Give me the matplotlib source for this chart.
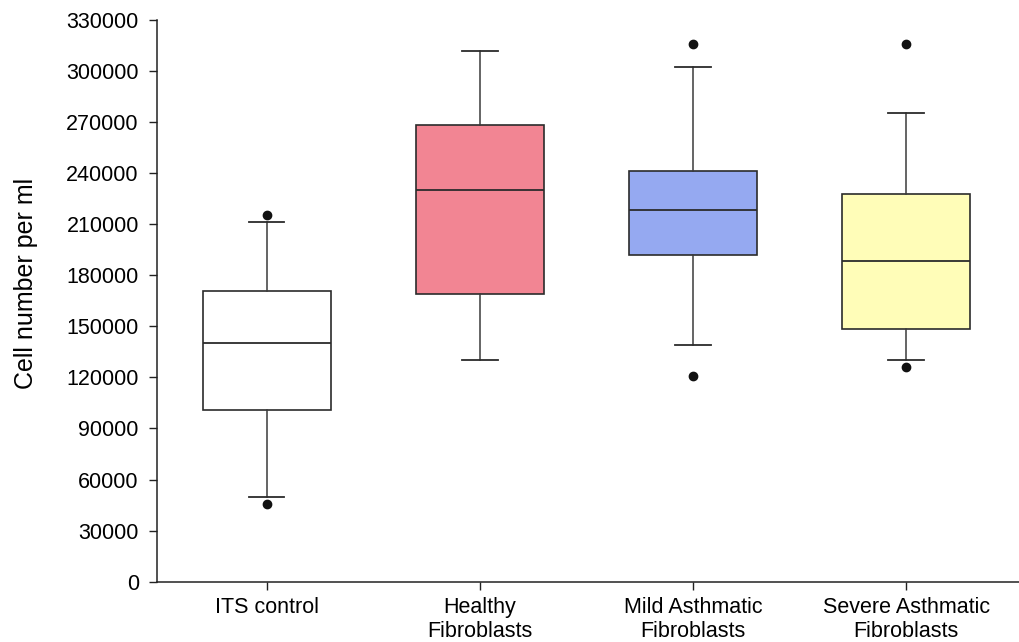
import matplotlib
matplotlib.use("Agg")
import matplotlib.pyplot as plt

plt.rcParams['font.family'] = ['Liberation Sans', 'DejaVu Sans']

groups = ["ITS control", "Healthy\nFibroblasts", "Mild Asthmatic\nFibroblasts",
          "Severe Asthmatic\nFibroblasts"]
fill_colors = ["#FFFFFF", "#F28593", "#95A9F1", "#FFFDB8"]

# five-number summaries (cells per ml)
whisker_low = [49500, 130500, 139000, 130000]
q1 = [101000, 169000, 192000, 148500]
median = [140000, 230000, 218500, 188500]
q3 = [171000, 268000, 241500, 227500]
whisker_high = [211000, 311500, 302500, 275500]
outliers = [[45500, 215500], [], [121000, 316000], [126000, 316000]]

stats = []
for i in range(len(groups)):
    stats.append({
        "whislo": whisker_low[i], "q1": q1[i], "med": median[i],
        "q3": q3[i], "whishi": whisker_high[i], "fliers": outliers[i],
    })

fig = plt.figure(figsize=(10.19, 6.42), dpi=100)
ax = fig.add_axes([0.154, 0.094, 0.846, 0.875])

bp = ax.bxp(stats, positions=[1, 2, 3, 4], widths=0.6, capwidths=0.165,
            patch_artist=True,
            boxprops=dict(edgecolor="#2b2b2b", linewidth=1.2),
            medianprops=dict(color="#2b2b2b", linewidth=1.3),
            whiskerprops=dict(color="#3a3a3a", linewidth=1.1),
            capprops=dict(color="#2b2b2b", linewidth=1.3),
            flierprops=dict(marker="o", markerfacecolor="#111111",
                            markeredgecolor="#111111", markersize=6))
for patch, c in zip(bp["boxes"], fill_colors):
    patch.set_facecolor(c)

ax.set_xlim(0.484, 4.53)
ax.set_ylim(0, 330000)
ax.set_yticks(range(0, 330001, 30000))
ax.set_xticks([1, 2, 3, 4])
ax.set_xticklabels(groups, linespacing=1.18)
ax.tick_params(axis="both", direction="out", length=6, width=1.0,
               labelsize=15.5, color="#222222")
ax.tick_params(axis="y", pad=7)
ax.tick_params(axis="x", pad=5)
ax.set_ylabel("Cell number per ml", fontsize=18)
ax.yaxis.set_label_coords(-0.138, 0.53)

for side in ["top", "right"]:
    ax.spines[side].set_visible(False)
for side in ["left", "bottom"]:
    ax.spines[side].set_linewidth(1.1)
    ax.spines[side].set_color("#222222")

fig.savefig("out.png", dpi=100)
